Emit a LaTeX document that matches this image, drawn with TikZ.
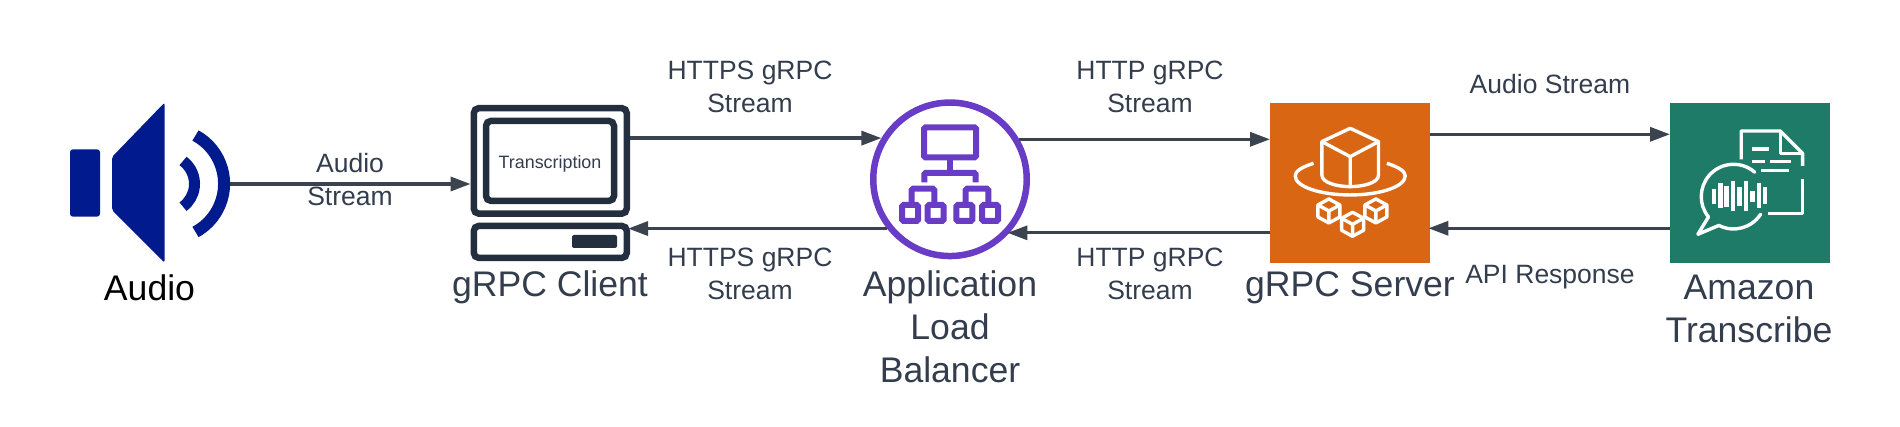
\documentclass[tikz,border=0pt]{standalone}
\usepackage{fontspec}
\setmainfont{Liberation Sans}
\usetikzlibrary{arrows.meta,positioning}
\definecolor{inkgrey}{HTML}{333D4D}
\definecolor{arrowgrey}{HTML}{3A434E}
\definecolor{clientnavy}{HTML}{232F3E}
\definecolor{speakerblue}{HTML}{011A8E}
\definecolor{albpurple}{HTML}{693CC5}
\definecolor{serverorange}{HTML}{D86613}
\definecolor{transcribegreen}{HTML}{1D7B67}
\tikzset{
    %Define standard arrow tip
    >={Triangle[length=20pt,width=14pt]},
    %Define style for boxes
    device/.style={
           rectangle,
           rounded corners=5pt,
           draw=clientnavy,
           line width=6.5pt,
           inner sep=0pt},
    awsbox/.style={
           rectangle,
           minimum width=160pt,
           minimum height=160pt,
           inner sep=0pt},
    % Define text styles
    caption/.style={
           text=inkgrey,
           align=center,
           font=\fontsize{35.6}{43}\selectfont},
    flowtext/.style={
           text=inkgrey,
           align=center,
           font=\fontsize{26.5}{33}\selectfont},
    % Define arrow style
    pil/.style={
           ->,
           draw=arrowgrey,
           line width=3.3pt},
    whiteline/.style={
           draw=white,
           line width=3.4pt,
           line join=round},
    cubelet/.pic={
           \draw[whiteline] (0,-36) -- (33,-18) -- (33,18) -- (0,36)
                 -- (-33,18) -- (-33,-18) -- cycle;
           \draw[whiteline] (-33,-18) -- (0,0) -- (33,-18) (0,0) -- (0,36);}
}
\begin{document}
\begin{tikzpicture}[x=1pt,y=-1pt]
\useasboundingbox (0,0) rectangle (1900,427);
 %nodes
\node[minimum width=160pt,minimum height=160pt,inner sep=0pt](speaker) at (150,183){};
\node[device,minimum width=153pt,minimum height=105.5pt](monitor) at (550.3,160.9){};
\node[device,minimum width=128pt,minimum height=80pt](screen) at (550,160.9){};
\node[text=inkgrey,font=\fontsize{17.9}{20}\selectfont](screentext) at (550,164){Transcription};
\node[device,minimum width=153pt,minimum height=32pt](clientbase) at (550.3,241.9){};
\node[rectangle,rounded corners=2pt,fill=clientnavy,minimum width=45pt,minimum height=13pt,inner sep=0pt](button) at (594.5,241.5){};
\node[circle,draw=albpurple,line width=6.5pt,minimum size=153.5pt,inner sep=0pt](alb) at (950,179.3){};
\node[awsbox,fill=serverorange,right=240pt of alb.east,yshift=-4pt](server){};
\node[awsbox,fill=transcribegreen,right=239.6pt of server](transcribe){};
 %captions
\node[caption,text=black](audiolabel) at (149.5,288){Audio};
\node[caption](clientlabel) at (550,287){gRPC Client};
\node[caption](alblabel) at (950,326.5){Application\\Load\\Balancer};
\node[caption](serverlabel) at (1350,288){gRPC Server};
\node[caption](transcribelabel) at (1749,309){Amazon\\Transcribe};
 %arrow labels
\node[flowtext](t1) at (350,179.5){Audio\\Stream};
\node[flowtext](t2) at (750,86.5){HTTPS gRPC\\Stream};
\node[flowtext](t3) at (750,274){HTTPS gRPC\\Stream};
\node[flowtext](t4) at (1150,86.5){HTTP gRPC\\Stream};
\node[flowtext](t5) at (1150,274){HTTP gRPC\\Stream};
\node[flowtext](t6) at (1550,84){Audio Stream};
\node[flowtext](t7) at (1550,277.5){API Response};
 %arrows
\draw[pil] ([yshift=-1pt]speaker.east) -- ([yshift=-1pt]speaker.east -| monitor.west);
\draw[pil] (monitor.east |- alb.149.5) -- (alb.149.5);
\draw[pil] (alb.218.7) -- ([xshift=-2pt]clientbase.east |- alb.218.7);
\draw[pil] (alb.30) -- (server.west |- alb.30);
\draw[pil] (server.west |- alb.-42.7) -- ([xshift=-2pt]alb.-42.7);
\draw[pil] ([yshift=49pt]server.east) -- ([yshift=49pt]transcribe.west);
\draw[pil] ([yshift=-45pt]transcribe.west) -- ([yshift=-45pt,xshift=-2pt]server.east);
 %speaker icon
\fill[speakerblue,rounded corners=3pt] (70,149.3) rectangle (100,216.7);
\fill[speakerblue,rounded corners=2pt] (164.5,102.7) -- (112,157) -- (112,210) -- (164.5,262.7) -- cycle;
\draw[speakerblue,line width=12pt] (195.5,135.5) arc[start angle=61.3,end angle=-61.3,radius=55pt];
\draw[speakerblue,line width=11pt] (183,161) arc[start angle=53.5,end angle=-53.5,radius=28.4pt];
 %alb icon
\begin{scope}[shift={(alb.center)},draw=albpurple,line width=6pt,rounded corners=1.5pt]
\draw (-26,-52) rectangle (26,-22);
\draw (0,-22) -- (0,-6.5);
\draw (-25.7,3) -- (-25.7,-6.5) -- (25.7,-6.5) -- (25.7,3);
\foreach \s in {-1,1}{
  \draw (\s*38.3,25) -- (\s*38.3,9.3) -- (\s*15.7,9.3) -- (\s*15.7,25);
  \draw (\s*48,25.7) rectangle (\s*32,41.7);
  \draw (\s*22.3,25.7) rectangle (\s*6.3,41.7);
}
\end{scope}
 %server icon
\begin{scope}[shift={(server.center)},x=.3333pt,y=-.3333pt]
\draw[whiteline] (0,-165) -- (85,-125) -- (85,-25) .. controls (85,0) and (35,10) .. (0,10)
   .. controls (-35,10) and (-85,0) .. (-85,-25) -- (-85,-125) -- cycle;
\draw[whiteline] (-85,-125) -- (0,-80) -- (85,-125) (0,-80) -- (0,10);
\draw[whiteline] (110,-60) .. controls (150,-47) and (165,-35) .. (165,-22)
   .. controls (165,10) and (90,35) .. (0,35)
   .. controls (-90,35) and (-165,10) .. (-165,-22)
   .. controls (-165,-35) and (-150,-47) .. (-110,-60);
\pic at (-64,83) {cubelet};
\pic at (77,83) {cubelet};
\pic at (7,123) {cubelet};
\end{scope}
 %transcribe icon
\begin{scope}[shift={(transcribe.center)},x=.3333pt,y=-.3333pt]
\draw[whiteline] (-27,-72) -- (-27,-157) -- (90,-157) -- (157,-90) -- (157,-52);
\draw[whiteline] (90,-157) -- (90,-90) -- (157,-90);
\draw[whiteline] (157,-12) -- (157,90) -- (52,90);
\draw[whiteline] (5,-103) -- (57,-103) (5,-65) -- (45,-65) (58,-65) -- (122,-65) (32,-39) -- (115,-39);
\draw[whiteline,line cap=round] (13.6,-33.2) arc[start angle=49,end angle=219,radius=32.3pt]
   -- (-157,153) -- (-94,126.4) arc[start angle=243,end angle=327,radius=32.3pt];
\foreach \x/\u/\v in {-109/17/63,-89/0/75,-71/8/70,-51/-8/82,-32/12/67,-12/-8/82,7/23/57,26/0/75,45/12/63}
  \draw[draw=white,line width=4.3pt] (\x,\u) -- (\x,\v);
\end{scope}
\end{tikzpicture}
\end{document}
